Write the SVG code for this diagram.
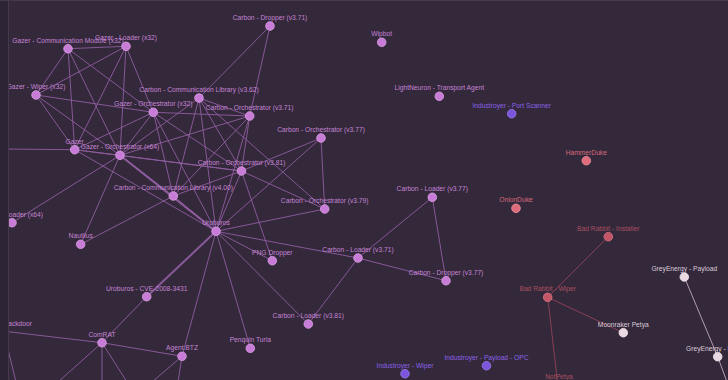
<svg xmlns="http://www.w3.org/2000/svg" width="728" height="380" viewBox="0 0 728 380">
<defs>
<style>
.e{stroke:#8f5da0;stroke-width:1;fill:none;stroke-opacity:0.9}
.ed{stroke:#9662a8;stroke-width:2;fill:none;stroke-opacity:0.85}
.er{stroke:#8a3e54;stroke-width:1;fill:none}
.el{stroke:#b59cb0;stroke-width:1;fill:none}
.n circle{r:4.3;stroke-width:0.8}
.p circle{fill:#c97bd8;stroke:#dba2e4}
.p text{fill:#c585d4}
.i circle{fill:#7b55dd;stroke:#9b7ae8}
.i text{fill:#8a62e6}
.d circle{fill:#e06b7a;stroke:#eb929e}
.d text{fill:#d86b7b}
.b circle{fill:#c25566;stroke:#d27a88}
.b text{fill:#a9505f}
.w circle{fill:#ead8e2;stroke:#f3e8ee}
.w text{fill:#dccbd8}
text{font-family:"Liberation Sans",Arial,sans-serif;font-size:6.7px;text-anchor:middle}
</style>
</defs>
<rect x="0" y="0" width="728" height="380" fill="#34283b"/>
<g id="connectors">
<line class="e" x1="68" y1="48.7" x2="126" y2="46.3"/>
<line class="e" x1="68" y1="48.7" x2="36" y2="95"/>
<line class="e" x1="68" y1="48.7" x2="74.7" y2="149.7"/>
<line class="e" x1="68" y1="48.7" x2="120" y2="155.3"/>
<line class="e" x1="68" y1="48.7" x2="153.3" y2="112.3"/>
<line class="e" x1="126" y1="46.3" x2="36" y2="95"/>
<line class="e" x1="126" y1="46.3" x2="74.7" y2="149.7"/>
<line class="e" x1="126" y1="46.3" x2="120" y2="155.3"/>
<line class="e" x1="126" y1="46.3" x2="153.3" y2="112.3"/>
<line class="e" x1="36" y1="95" x2="153.3" y2="112.3"/>
<line class="e" x1="36" y1="95" x2="120" y2="155.3"/>
<line class="e" x1="36" y1="95" x2="74.7" y2="149.7"/>
<line class="e" x1="153.3" y1="112.3" x2="120" y2="155.3"/>
<line class="e" x1="153.3" y1="112.3" x2="74.7" y2="149.7"/>
<line class="e" x1="153.3" y1="112.3" x2="173.3" y2="196"/>
<line class="e" x1="153.3" y1="112.3" x2="216" y2="231.3"/>
<line class="e" x1="153.3" y1="112.3" x2="241.5" y2="171"/>
<line class="e" x1="153.3" y1="112.3" x2="249.7" y2="116"/>
<line class="e" x1="199" y1="98" x2="270" y2="26"/>
<line class="e" x1="199" y1="98" x2="249.7" y2="116"/>
<line class="e" x1="199" y1="98" x2="120" y2="155.3"/>
<line class="e" x1="199" y1="98" x2="173.3" y2="196"/>
<line class="e" x1="199" y1="98" x2="216" y2="231.3"/>
<line class="e" x1="199" y1="98" x2="241.5" y2="171"/>
<line class="e" x1="199" y1="98" x2="324.7" y2="209"/>
<line class="e" x1="249.7" y1="116" x2="270" y2="26"/>
<line class="e" x1="249.7" y1="116" x2="120" y2="155.3"/>
<line class="e" x1="249.7" y1="116" x2="241.5" y2="171"/>
<line class="e" x1="249.7" y1="116" x2="216" y2="231.3"/>
<line class="e" x1="249.7" y1="116" x2="173.3" y2="196"/>
<line class="e" x1="321" y1="138" x2="241.5" y2="171"/>
<line class="e" x1="321" y1="138" x2="216" y2="231.3"/>
<line class="e" x1="321" y1="138" x2="324.7" y2="209"/>
<line class="e" x1="241.5" y1="171" x2="324.7" y2="209"/>
<line class="e" x1="241.5" y1="171" x2="272.3" y2="260.7"/>
<line class="e" x1="241.5" y1="171" x2="216" y2="231.3"/>
<line class="e" x1="241.5" y1="171" x2="173.3" y2="196"/>
<line class="e" x1="241.5" y1="171" x2="74.7" y2="149.7"/>
<line class="e" x1="241.5" y1="171" x2="120" y2="155.3"/>
<line class="e" x1="173.3" y1="196" x2="216" y2="231.3"/>
<line class="e" x1="173.3" y1="196" x2="80.7" y2="244.3"/>
<line class="e" x1="173.3" y1="196" x2="120" y2="155.3"/>
<line class="ed" x1="120" y1="155.3" x2="216" y2="231.3"/>
<line class="e" x1="120" y1="155.3" x2="12" y2="222.7"/>
<line class="e" x1="120" y1="155.3" x2="80.7" y2="244.3"/>
<line class="e" x1="120" y1="155.3" x2="74.7" y2="149.7"/>
<line class="e" x1="74.7" y1="149.7" x2="216" y2="231.3"/>
<line class="e" x1="2" y1="149" x2="74.7" y2="149.7"/>
<line class="e" x1="324.7" y1="209" x2="216" y2="231.3"/>
<line class="e" x1="216" y1="231.3" x2="272.3" y2="260.7"/>
<line class="e" x1="216" y1="231.3" x2="358" y2="258"/>
<line class="e" x1="216" y1="231.3" x2="308.3" y2="324"/>
<line class="e" x1="216" y1="231.3" x2="250.3" y2="348.3"/>
<line class="e" x1="216" y1="231.3" x2="182" y2="356.3"/>
<line class="ed" x1="216" y1="231.3" x2="146.7" y2="296.7"/>
<line class="e" x1="146.7" y1="296.7" x2="102" y2="342.7"/>
<line class="e" x1="2" y1="331" x2="102" y2="342.7"/>
<line class="e" x1="102" y1="342.7" x2="182" y2="356.3"/>
<line class="e" x1="102" y1="342.7" x2="58" y2="382"/>
<line class="e" x1="102" y1="342.7" x2="102" y2="382"/>
<line class="e" x1="102" y1="342.7" x2="127" y2="382"/>
<line class="e" x1="182" y1="356.3" x2="152" y2="382"/>
<line class="e" x1="182" y1="356.3" x2="178" y2="382"/>
<line class="e" x1="4" y1="333" x2="16" y2="382"/>
<line class="e" x1="432.3" y1="197.3" x2="358" y2="258"/>
<line class="e" x1="432.3" y1="197.3" x2="446" y2="280.7"/>
<line class="e" x1="358" y1="258" x2="446" y2="280.7"/>
<line class="e" x1="358" y1="258" x2="308.3" y2="324"/>
<line class="er" x1="608.3" y1="236.7" x2="547.7" y2="297.3"/>
<line class="er" x1="547.7" y1="297.3" x2="623.3" y2="332.7"/>
<line class="er" x1="547.7" y1="297.3" x2="558" y2="386"/>
<line class="el" x1="684.3" y1="277" x2="717.7" y2="356.7"/>
<line class="el" x1="717.7" y1="356.7" x2="727" y2="382"/>
</g>
<g id="node-gcm" class="n p"><circle cx="68" cy="48.7"/><text x="68" y="42.5">Gazer - Communication Module (x32)</text></g>
<g id="node-gl32" class="n p"><circle cx="126" cy="46.3"/><text x="126" y="40">Gazer - Loader (x32)</text></g>
<g id="node-gw" class="n p"><circle cx="36" cy="95"/><text x="36" y="89">Gazer - Wiper (x32)</text></g>
<g id="node-go32" class="n p"><circle cx="153.3" cy="112.3"/><text x="153.3" y="106">Gazer - Orchestrator (x32)</text></g>
<g id="node-ccl362" class="n p"><circle cx="199" cy="98"/><text x="199" y="92">Carbon - Communication Library (v3.62)</text></g>
<g id="node-co371" class="n p"><circle cx="249.7" cy="116"/><text x="249.7" y="110">Carbon - Orchestrator (v3.71)</text></g>
<g id="node-cd371" class="n p"><circle cx="270" cy="26"/><text x="270" y="20">Carbon - Dropper (v3.71)</text></g>
<g id="node-wipbot" class="n p"><circle cx="381.7" cy="42.3"/><text x="381.7" y="36">Wipbot</text></g>
<g id="node-lightneuron" class="n p"><circle cx="439.3" cy="96.3"/><text x="439.3" y="90">LightNeuron - Transport Agent</text></g>
<g id="node-ips" class="n i"><circle cx="511.7" cy="113.7"/><text x="511.7" y="107.5">Industroyer - Port Scanner</text></g>
<g id="node-gazer" class="n p"><circle cx="74.7" cy="149.7"/><text x="74.7" y="143.5">Gazer</text></g>
<g id="node-go64" class="n p"><circle cx="120" cy="155.3"/><text x="120" y="149">Gazer - Orchestrator (x64)</text></g>
<g id="node-co377" class="n p"><circle cx="321" cy="138"/><text x="321" y="132">Carbon - Orchestrator (v3.77)</text></g>
<g id="node-co381" class="n p"><circle cx="241.5" cy="171"/><text x="241.5" y="165">Carbon - Orchestrator (v3.81)</text></g>
<g id="node-ccl400" class="n p"><circle cx="173.3" cy="196"/><text x="173.3" y="190">Carbon - Communication Library (v4.00)</text></g>
<g id="node-co379" class="n p"><circle cx="324.7" cy="209"/><text x="324.7" y="203">Carbon - Orchestrator (v3.79)</text></g>
<g id="node-cl377" class="n p"><circle cx="432.3" cy="197.3"/><text x="432.3" y="191">Carbon - Loader (v3.77)</text></g>
<g id="node-hammerduke" class="n d"><circle cx="586.3" cy="160.7"/><text x="586.3" y="154.5">HammerDuke</text></g>
<g id="node-onionduke" class="n d"><circle cx="516" cy="208.3"/><text x="516" y="202">OnionDuke</text></g>
<g id="node-bri" class="n b"><circle cx="608.3" cy="236.7"/><text x="608.3" y="230.5">Bad Rabbit - Installer</text></g>
<g id="node-gl64" class="n p"><circle cx="12" cy="222.7"/><text x="12" y="216.5">Gazer - Loader (x64)</text></g>
<g id="node-nautilus" class="n p"><circle cx="80.7" cy="244.3"/><text x="80.7" y="238">Nautilus</text></g>
<g id="node-uroburos" class="n p"><circle cx="216" cy="231.3"/><text x="216" y="225">Uroburos</text></g>
<g id="node-png" class="n p"><circle cx="272.3" cy="260.7"/><text x="272.3" y="254.5">PNG Dropper</text></g>
<g id="node-cl371" class="n p"><circle cx="358" cy="258"/><text x="358" y="252">Carbon - Loader (v3.71)</text></g>
<g id="node-cd377" class="n p"><circle cx="446" cy="280.7"/><text x="446" y="274.5">Carbon - Dropper (v3.77)</text></g>
<g id="node-brw" class="n b"><circle cx="547.7" cy="297.3"/><text x="547.7" y="291">Bad Rabbit - Wiper</text></g>
<g id="node-gep" class="n w"><circle cx="684.3" cy="277"/><text x="684.3" y="271">GreyEnergy - Payload</text></g>
<g id="node-ucve" class="n p"><circle cx="146.7" cy="296.7"/><text x="146.7" y="290.5">Uroburos - CVE-2008-3431</text></g>
<g id="node-cl381" class="n p"><circle cx="308.3" cy="324"/><text x="308.3" y="318">Carbon - Loader (v3.81)</text></g>
<g id="node-moonraker" class="n w"><circle cx="623.3" cy="332.7"/><text x="623.3" y="326.5">Moonraker Petya</text></g>
<g id="node-comrat" class="n p"><circle cx="102" cy="342.7"/><text x="102" y="336.5">ComRAT</text></g>
<g id="node-agentbtz" class="n p"><circle cx="182" cy="356.3"/><text x="182" y="350">Agent.BTZ</text></g>
<g id="node-penquin" class="n p"><circle cx="250.3" cy="348.3"/><text x="250.3" y="342">Penquin Turla</text></g>
<g id="node-ged" class="n w"><circle cx="717.7" cy="356.7"/><text x="686" y="350.5" style="text-anchor:start">GreyEnergy - D</text></g>
<g id="node-iw" class="n i"><circle cx="405" cy="373.7"/><text x="405" y="367.5">Industroyer - Wiper</text></g>
<g id="node-ipo" class="n i"><circle cx="486.5" cy="365.7"/><text x="486.5" y="359.5">Industroyer - Payload - OPC</text></g>
<g id="node-notpetya" class="n b"><text x="559" y="378.5">NotPetya</text></g>
<g id="node-backdoor" class="n p"><text x="32" y="325.5" style="text-anchor:end">Backdoor</text></g>
<rect x="0" y="0" width="8" height="380" fill="#2d2435"/>
<line x1="8.5" y1="0" x2="8.5" y2="380" stroke="#453a4c" stroke-width="1"/>
<line x1="0" y1="0.5" x2="728" y2="0.5" stroke="#453a4c" stroke-width="1"/>
</svg>
